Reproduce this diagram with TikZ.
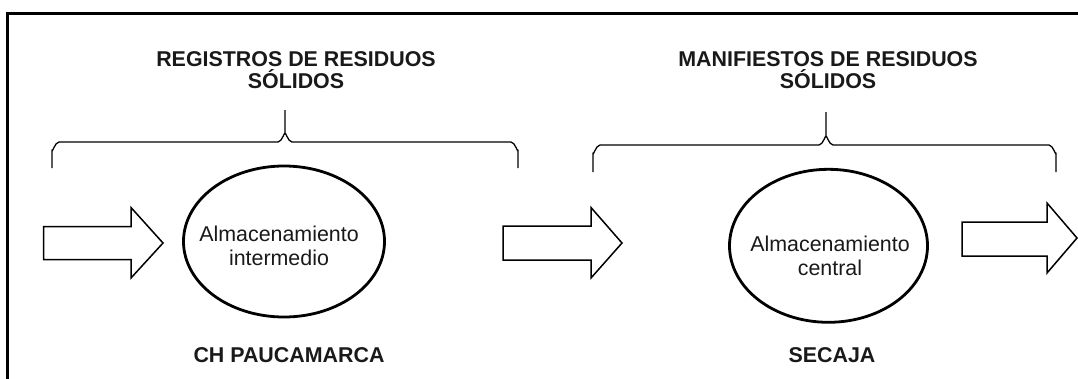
\documentclass[tikz,border=0pt]{standalone}
\usepackage{fontspec}
\setmainfont{Liberation Sans}
\usetikzlibrary{shapes.geometric}
\begin{document}
\begin{tikzpicture}[x=1pt,y=-1pt,
  title/.style={font=\bfseries\fontsize{21.4}{22.3}\selectfont, align=center, inner sep=0pt, text=black!90},
  place/.style={font=\bfseries\fontsize{21.4}{24}\selectfont, inner sep=0pt, anchor=base, text=black!90},
  store/.style={draw, ellipse, line width=2.8pt, inner sep=0pt},
  stext/.style={font=\fontsize{21.4}{23.3}\selectfont, align=center, inner sep=0pt, text=black!90},
  blockarrow/.style={draw, line width=1.5pt, line join=miter},
  bracepath/.style={draw, line width=1.3pt, line join=round},
  frame/.style={line width=2.2pt}]
\useasboundingbox (0,0) rectangle (1078,378);
% frame
\coordinate (fbl) at (7.5,400);
\coordinate (ftl) at (7.5,13.5);
\coordinate (ftr) at (1100,13.5);
\draw[frame] (fbl) -- (ftl) -- (ftr);

% titles
\node[title] (t1) at (296,70.2) {REGISTROS DE RESIDUOS\\SÓLIDOS};
\node[title] (t2) at (828,70.2) {MANIFIESTOS DE RESIDUOS\\SÓLIDOS};

% brace 1
\coordinate (b1l) at (52,168);
\coordinate (b1r) at (518,168);
\coordinate (b1t) at (285,110);
\coordinate (b1m) at (285,134);
\draw[bracepath] (b1l) -- (52,150) to[out=-90,in=180] (59,142) -- (278,142)
   to[out=0,in=90] (b1m) -- (b1t);
\draw[bracepath] (b1r) -- (518,150) to[out=-90,in=0] (511,142) -- (292,142)
   to[out=180,in=90] (b1m);

% brace 2
\coordinate (b2l) at (593,172);
\coordinate (b2r) at (1056,172);
\coordinate (b2t) at (826,112);
\coordinate (b2m) at (826,137);
\draw[bracepath] (b2l) -- (593,153) to[out=-90,in=180] (600,145) -- (819,145)
   to[out=0,in=90] (b2m) -- (b2t);
\draw[bracepath] (b2r) -- (1056,153) to[out=-90,in=0] (1049,145) -- (833,145)
   to[out=180,in=90] (b2m);

% storage ellipses
\node[store, minimum width=201pt, minimum height=151pt] (e1) at (284,241.5) {};
\node[store, minimum width=198pt, minimum height=153pt] (e2) at (828.5,245.8) {};
\node[stext] (s1) at (279,245.7) {Almacenamiento\\intermedio};
\node[stext] (s2) at (830,255.7) {Almacenamiento\\central};

% places
\node[place] (p1) at (289,362.7) {CH PAUCAMARCA};
\node[place] (p2) at (832,362.7) {SECAJA};

% block arrows
\draw[blockarrow] (43.5,226.5) -- (131,226.5) -- (131,207.5) -- (163,243) -- (131,278) -- (131,259.5) -- (43.5,259.5) -- cycle;
\draw[blockarrow] (503,226) -- (591,226) -- (591,207.5) -- (622,243) -- (591,278) -- (591,260) -- (503,260) -- cycle;
\draw[blockarrow] (962,222) -- (1047,222) -- (1047,203) -- (1077,238) -- (1047,273) -- (1047,256) -- (962,256) -- cycle;
\end{tikzpicture}
\end{document}
